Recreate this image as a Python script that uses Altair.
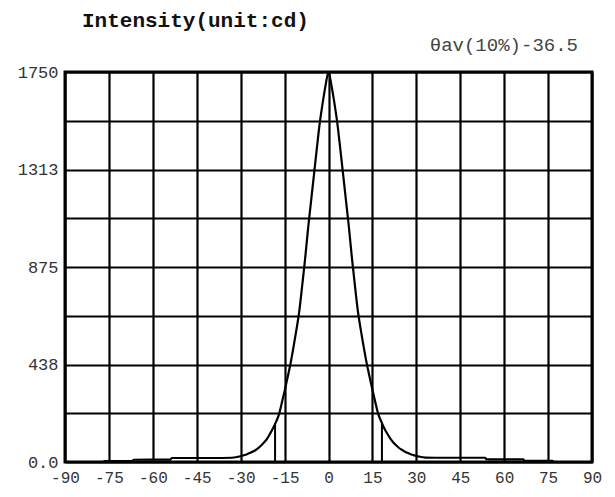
import altair as alt
import pandas as pd

# ---- data ----
angles = [-90, -77, -76.5, -67, -66.5, -54, -53.5, -40, -33, -31, -30, -29, -28, -27, -26,
          -25, -24, -23, -22, -21, -20, -19, -18, -17, -16, -15, -14, -13, -12, -11,
          -10, -9, -8, -7, -6, -5, -4, -3, -2, -1, 0,
          1, 2, 3, 4, 5, 6, 7, 8, 9, 10, 11, 12, 13, 14, 15, 16, 17, 18, 19, 20,
          21, 22, 23, 24, 25, 26, 27, 28, 29, 30, 31, 33, 40, 53.5, 54, 66.5, 67, 76.5, 77, 90]
intensity = [0, 0, 4, 4, 10, 11, 18, 18, 19, 23, 26, 30, 34, 40, 46,
             53, 62, 74, 88, 104, 126, 150, 178, 210, 262, 318, 378, 440, 512, 590,
             675, 790, 910, 1045, 1165, 1285, 1405, 1520, 1610, 1690, 1750,
             1690, 1612, 1522, 1408, 1290, 1170, 1050, 915, 795, 680, 595, 518, 446, 384, 324, 268, 215, 182, 153, 129,
             107, 90, 76, 64, 55, 47, 41, 35, 31, 27, 24, 20, 19, 19, 12, 12, 5, 5, 0, 0]

ten_pct_angles = [-18.25, 18.25]
ten_pct_top = [174, 174]

y_grid_values = [0, 218.75, 437.5, 656.25, 875, 1093.75, 1312.5, 1531.25, 1750]
y_label_map = {0: "0.0", 437.5: "438", 875: "875", 1312.5: "1313", 1750: "1750"}
x_tick_values = [-90, -75, -60, -45, -30, -15, 0, 15, 30, 45, 60, 75, 90]

title_text = "Intensity(unit:cd)"
note_text = "θav(10%)-36.5"

# ---- tables ----
curve = pd.DataFrame({"angle": angles, "cd": intensity})
rules = pd.DataFrame({"angle": ten_pct_angles, "y0": [0, 0], "top": ten_pct_top})
note = pd.DataFrame({"angle": [90], "label": [note_text]})

y_expr = " : ".join(
    f"datum.value == {k} ? '{v}'" for k, v in y_label_map.items()
) + " : ''"

FONT = "Liberation Mono"

x_scale = alt.Scale(domain=[-90, 90], nice=False, zero=False)
y_scale = alt.Scale(domain=[0, 1750], nice=False)

line = alt.Chart(curve).mark_line(color="black", strokeWidth=2.2, interpolate="monotone").encode(
    x=alt.X("angle:Q", scale=x_scale,
            axis=alt.Axis(values=x_tick_values, title=None, labelExpr="'' + datum.value",
                          grid=True, gridColor="black", gridWidth=2.2, gridOpacity=1,
                          domain=False, ticks=False, labelPadding=7, labelOverlap=False,
                          labelFlush=False,
                          labelFont=FONT, labelFontSize=16, labelColor="#333")),
    y=alt.Y("cd:Q", scale=y_scale,
            axis=alt.Axis(values=y_grid_values, title=None, labelExpr=y_expr,
                          grid=True, gridColor="black", gridWidth=2.2, gridOpacity=1,
                          domain=False, ticks=False, labelPadding=7, labelOffset=0,
                          labelFlush=False,
                          labelFont=FONT, labelFontSize=17, labelColor="#333",
                          labelBaseline="middle", labelOverlap=False)),
)

ten = alt.Chart(rules).mark_rule(color="black", strokeWidth=2).encode(
    x=alt.X("angle:Q", scale=x_scale),
    y=alt.Y("y0:Q", scale=y_scale),
    y2="top:Q",
)

txt = alt.Chart(note).mark_text(
    align="right", baseline="middle", dx=-14, font=FONT, fontSize=19, color="#444"
).encode(
    x=alt.X("angle:Q", scale=x_scale),
    y=alt.value(-27),
    text="label:N",
)

chart = alt.layer(line, ten, txt).properties(
    width=527,
    height=390,
    background="white",
    autosize=alt.AutoSizeParams(type="none"),
    padding={"left": 57, "top": 64, "right": 15, "bottom": 27},
    title=alt.TitleParams(title_text, anchor="start", frame="group", font=FONT, fontSize=21,
                          fontWeight="bold", color="#111", dx=17, offset=5),
).configure_view(stroke="black", strokeWidth=3)

chart.save("out.html", embed_options={"renderer": "svg", "actions": False})
